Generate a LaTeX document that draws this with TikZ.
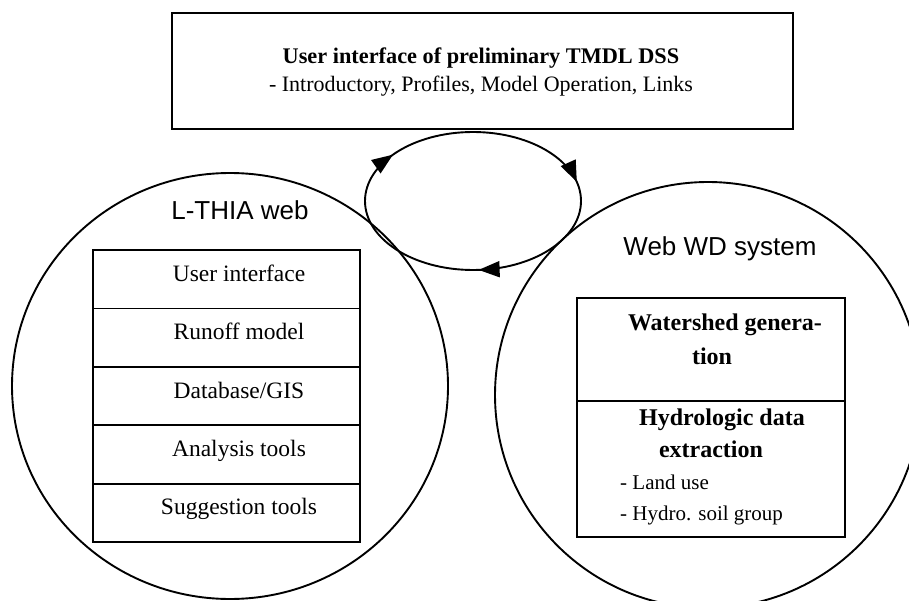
\documentclass[tikz,border=0pt]{standalone}
\usepackage{fontspec}
\setmainfont{Liberation Serif}
\newfontfamily\headfont{Liberation Sans}
\usetikzlibrary{arrows.meta,decorations.markings,shapes.geometric}

\begin{document}
\begin{tikzpicture}[x=1pt,y=-1pt,
  txt/.style={inner sep=0pt, text height=0.7em, text depth=0.2em},
  head/.style={txt, font=\headfont\fontsize{26}{30}\selectfont},
  cell/.style={txt, font=\fontsize{23.5}{28}\selectfont},
  boldcell/.style={txt, font=\bfseries\fontsize{24}{28}\selectfont},
  small/.style={txt, font=\fontsize{21}{25}\selectfont},
  row/.style={draw, line width=1.8pt, inner sep=0pt, minimum width=267pt, minimum height=58.4pt},
  bubble/.style={draw, ellipse, line width=1.9pt, inner sep=0pt},
  ring/.style={line width=1.9pt, postaction={decorate},
    decoration={markings,
      mark=at position 0.24 with {\arrow{Triangle[length=21pt,width=16pt]}},
      mark=at position 0.60 with {\arrow{Triangle[length=21pt,width=16pt]}},
      mark=at position 0.965 with {\arrow{Triangle[length=21pt,width=16pt]}}}}
]
\useasboundingbox (0,0) rectangle (909,601);
\clip (0,0) rectangle (909,601);

% top panel
\node[draw, line width=2pt, minimum width=621pt, minimum height=116pt, inner sep=0pt] (dss) at (482.5,71) {};
\node[txt, font=\bfseries\fontsize{22.3}{26}\selectfont] (dsstitle) at (481,61) {User interface of preliminary TMDL DSS};
\node[txt, font=\fontsize{22}{26}\selectfont] (dssitems) at (481,89.5) {- Introductory, Profiles, Model Operation, Links};

% the two systems
\node[bubble, minimum width=436pt, minimum height=426pt] (lthia) at (230,386) {};
\node[bubble, minimum width=426pt, minimum height=426pt] (wd) at (708,395) {};

% exchange loop between them
\draw[ring] (473,201) ellipse [x radius=108, y radius=69];

% L-THIA web components
\node[head] (lthiatitle) at (240,217) {L-THIA web};
\node[row] (r1) at (226.5,279.2) {};
\node[row] (r2) at (226.5,337.6) {};
\node[row] (r3) at (226.5,396.0) {};
\node[row] (r4) at (226.5,454.4) {};
\node[row] (r5) at (226.5,512.8) {};
\node[cell] at (239,279) {User interface};
\node[cell] at (239,337) {Runoff model};
\node[cell] at (239,396) {Database/GIS};
\node[cell] at (239,454) {Analysis tools};
\node[cell] at (239,512) {Suggestion tools};

% Web WD system components
\node[head] (wdtitle) at (720,253) {Web WD system};
\node[draw, line width=1.8pt, inner sep=0pt, minimum width=268pt, minimum height=103pt] (ws) at (711,349.5) {};
\node[draw, line width=1.8pt, inner sep=0pt, minimum width=268pt, minimum height=136pt] (hd) at (711,469) {};
\node[boldcell] at (725,328) {Watershed genera-};
\node[boldcell] at (712,362) {tion};
\node[boldcell] at (722,423) {Hydrologic data};
\node[boldcell] at (711,455) {extraction};
\node[small, anchor=west] at (620,487) {- Land use};
\node[small, anchor=west] at (620,518) {- Hydro. soil group};
\end{tikzpicture}
\end{document}
